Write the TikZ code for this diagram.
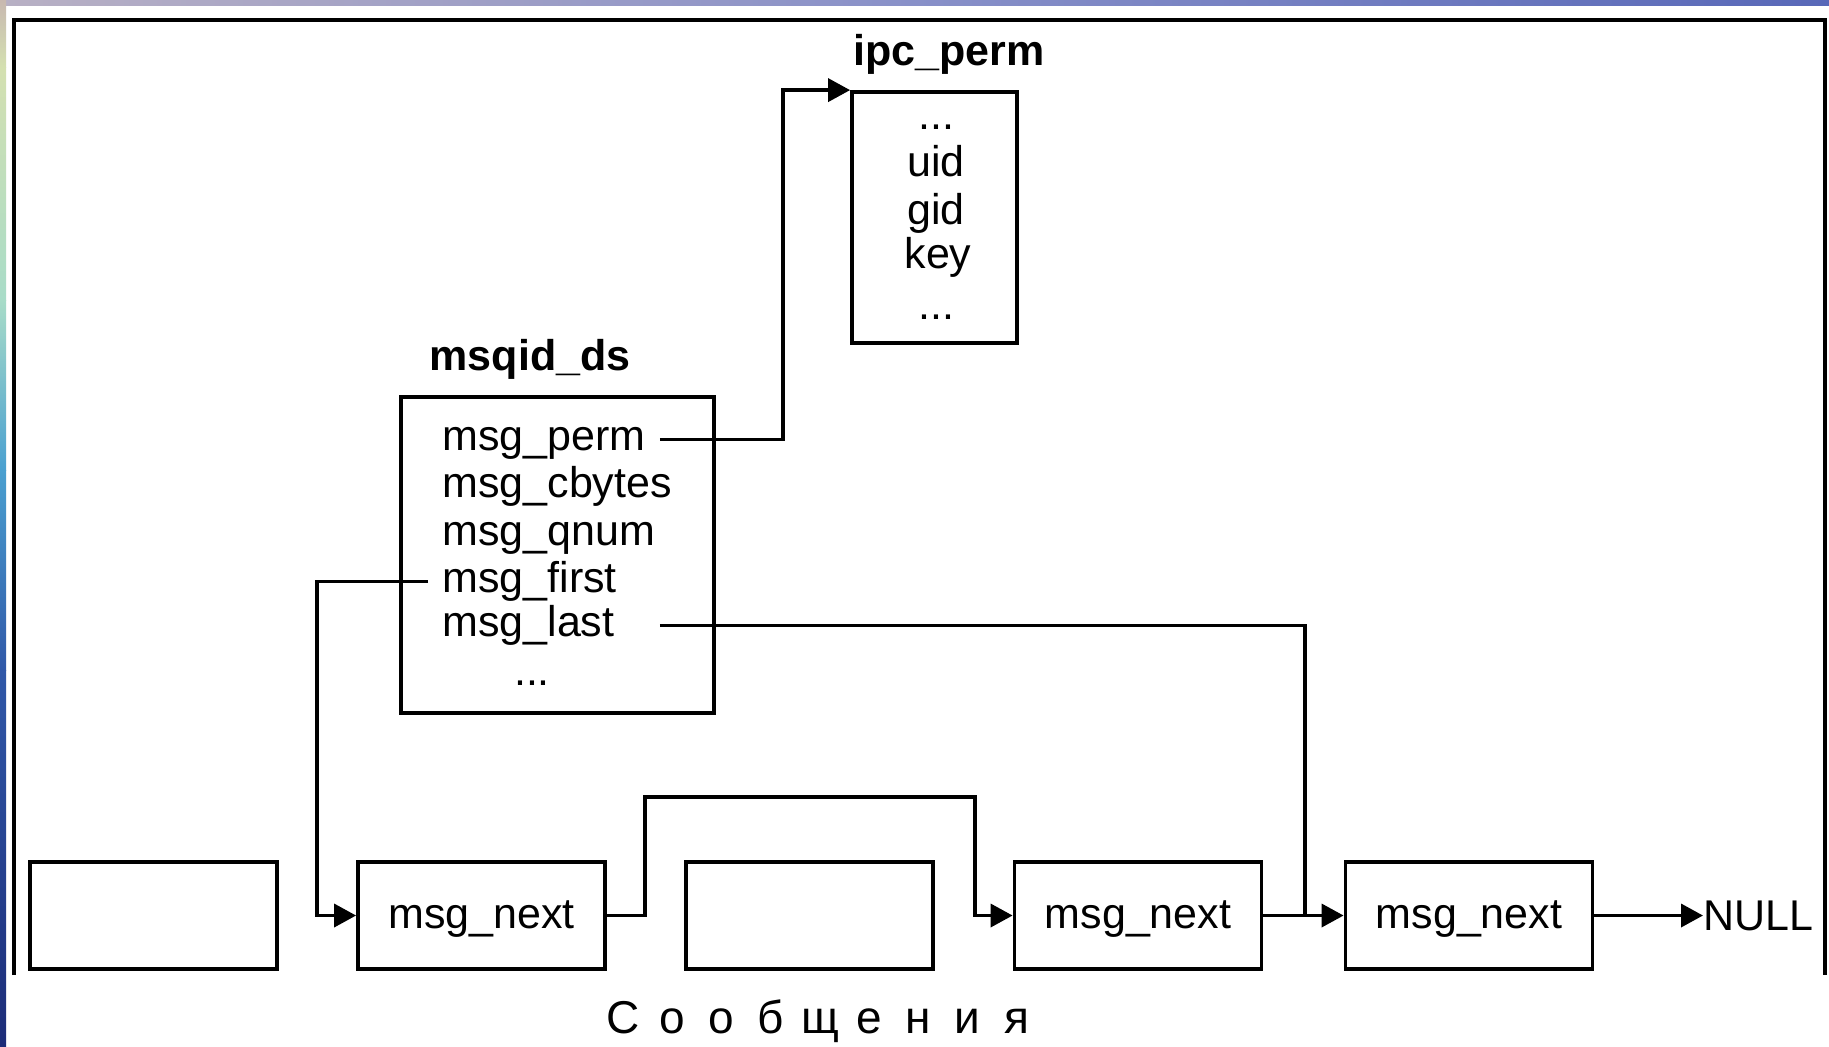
\documentclass[tikz,border=0pt]{standalone}
\usepackage{fontspec}
\setmainfont{Liberation Sans}
\usetikzlibrary{arrows.meta}

% one letter of the widely spaced caption
\newcommand{\sletter}[1]{\makebox[24.6pt]{#1}}

\definecolor{edgeA}{HTML}{C8B8B0}
\definecolor{edgeB}{HTML}{D4E0B0}
\definecolor{edgeC}{HTML}{A8DCC8}
\definecolor{edgeD}{HTML}{4AA0D0}
\definecolor{edgeE}{HTML}{3058A8}
\definecolor{edgeF}{HTML}{1C2C78}
\definecolor{topL}{HTML}{B8B0C4}
\definecolor{topM}{HTML}{8890C8}
\definecolor{topR}{HTML}{5868B8}

\begin{document}
\begin{tikzpicture}[x=0.5pt,y=-0.5pt,
  every node/.style={font=\fontsize{21.5}{25}\selectfont},
  structbox/.style={draw, line width=1.9pt, inner sep=0pt},
  msgbox/.style={structbox, minimum width=123.5pt, minimum height=53.5pt,
                 text height=17.2pt, text depth=4.3pt},
  field/.style={anchor=base west, inner xsep=7pt, inner ysep=0pt,
                text height=16.1pt, text depth=5.4pt},
  member/.style={anchor=base, inner sep=0pt},
  title/.style={anchor=base, inner sep=0pt, font=\fontsize{21.5}{25}\selectfont\bfseries},
  wire/.style={line width=1.8pt},
  conn/.style={wire, -{Triangle[length=11pt,width=11.5pt]}},
  frame/.style={line width=1.8pt}]

% page background and slide edges
\fill[white] (0,0) rectangle (1829,1046);
\useasboundingbox (0,0) rectangle (1829,1046);
\shade[left color=topL, right color=topR, middle color=topM] (0,0) rectangle (1829,5);
\shade[top color=edgeA, bottom color=edgeB] (0,0) rectangle (6,67);
\shade[top color=edgeB, bottom color=edgeC] (0,67) rectangle (6,300);
\shade[top color=edgeC, bottom color=edgeD] (0,300) rectangle (6,470);
\shade[top color=edgeD, bottom color=edgeE] (0,470) rectangle (6,670);
\shade[top color=edgeE, bottom color=edgeF] (0,670) rectangle (6,1046);

% figure frame
\draw[frame] (14,975) -- (14,20) -- (1825,20) -- (1825,975);

% ipc_perm structure
\node[title] (ipctitle) at (949,65) {ipc\_perm};
\node[structbox, minimum width=82.5pt, minimum height=125.5pt] (ipc) at (934.5,217.5) {};
\node[member] (ipcdotsA) at (936,129) {...};
\node[member] (uid) at (936,176) {uid};
\node[member] (gid) at (936,224) {gid};
\node[member] (key) at (938,268) {key};
\node[member] (ipcdotsB) at (936,319) {...};

% msqid_ds structure
\node[title] (msqtitle) at (530,370) {msqid\_ds};
\node[structbox, minimum width=156.5pt, minimum height=158pt] (msqid) at (557.5,555) {};
\node[field] (perm)   at (428,450) {msg\_perm};
\node[field] (cbytes) at (428,497) {msg\_cbytes};
\node[field] (qnum)   at (428,545) {msg\_qnum};
\node[field] (first)  at (428,592) {msg\_first};
\node[field] (last)   at (428,636) {msg\_last};
\node[member] (msqdots) at (532,685) {...};

% message queue
\node[msgbox] (b0) at (153.5,915.5) {};
\node[msgbox] (b1) at (481.5,915.5) {msg\_next};
\node[msgbox] (b2) at (809.5,915.5) {};
\node[msgbox] (b3) at (1138,915.5) {msg\_next};
\node[msgbox] (b4) at (1469,915.5) {msg\_next};
\node[anchor=west, inner sep=0pt, text depth=0pt] (null) at (1703,915.5) {NULL};

\node[anchor=base, inner sep=0pt, font=\fontsize{23}{27}\selectfont] (caption) at (820,1033)
  {\sletter{С}\sletter{о}\sletter{о}\sletter{б}\sletter{щ}\sletter{е}\sletter{н}\sletter{и}\sletter{я}};

% bend points of the connectors
\coordinate (permup) at (783,92);
\coordinate (firstdown) at (317,915.5);
\coordinate (lastdown) at (1305,915.5);
\coordinate (nextupA) at (645,797);
\coordinate (nextupB) at (975,797);

% pointers
\draw[conn] (perm.east) -| (permup |- ipc.north west) -- (ipc.north west);
\draw[conn] (first.west) -| (firstdown) -- (b1.west);
\draw[wire] (perm.east |- last.center) -| (lastdown);
\draw[conn] (b1.east) -| (nextupA) -- (nextupB) |- (b3.west);
\draw[conn] (b3.east) -- (b4.west);
\draw[conn] (b4.east) -- (null.west);
\end{tikzpicture}
\end{document}
